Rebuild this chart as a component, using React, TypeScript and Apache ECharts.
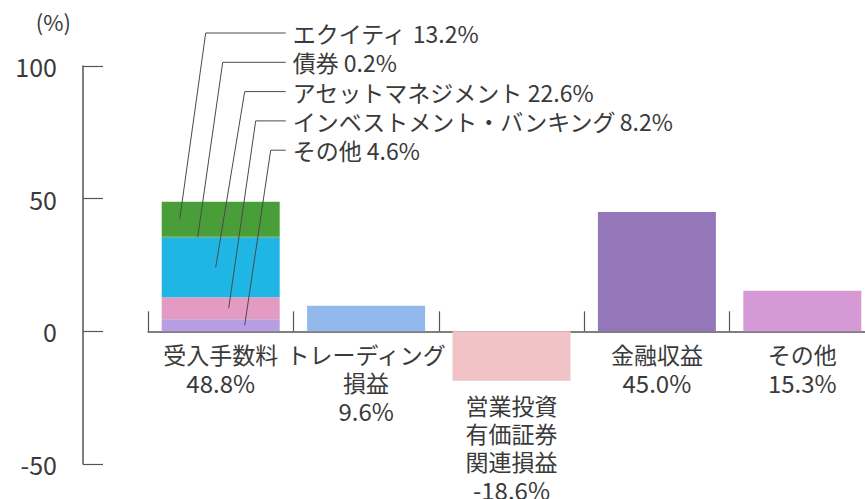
import React, { useEffect, useRef } from "react";
import * as echarts from "echarts";

const categories = ["受入手数料", "トレーディング\n損益", "営業投資\n有価証券\n関連損益", "金融収益", "その他"];
const totals = [48.8, 9.6, -18.6, 45.0, 15.3];
const totalColors = ["", "#93b8ec", "#f1c3c6", "#9477b9", "#d59ad6"];
// fee breakdown for 受入手数料, bottom to top
const feeNames = ["その他", "インベストメント・バンキング", "アセットマネジメント", "債券", "エクイティ"];
const feeValues = [4.6, 8.2, 22.6, 0.2, 13.2];
const feeColors = ["#b79ee2", "#e39bc4", "#1fb6e6", "#3f8f3a", "#4a9e3a"];
const yTicks = [-50, 0, 50, 100];

const FONT = "'Noto Sans CJK JP', 'Noto Sans', sans-serif";
const TEXT = "#3a3a3a";
const AXIS = "#555";

export default function App() {
  const ref = useRef<HTMLDivElement>(null);
  useEffect(() => {
    if (!ref.current) return;
    const chart = echarts.init(ref.current, undefined, { renderer: "svg" });
    const feeSeries = feeValues.map((v, i) => ({
      name: feeNames[i],
      type: "bar",
      stack: "a",
      barWidth: 118,
      itemStyle: { color: feeColors[i] },
      data: categories.map((_, j) => (j === 0 ? v : "-")),
    }));
    const otherSeries = {
      name: "total",
      type: "bar",
      stack: "a",
      barWidth: 118,
      data: totals.map((v, j) =>
        j === 0 ? "-" : { value: v, itemStyle: { color: totalColors[j] } }
      ),
    };
    chart.setOption({
      animation: false,
      textStyle: { fontFamily: FONT },
      grid: { left: 148, top: 66, bottom: 35, width: 727, containLabel: false, outerBoundsMode: "none" },
      xAxis: {
        type: "category",
        data: categories,
        position: "bottom",
        offset: 0,
        axisLine: { onZero: false, lineStyle: { color: AXIS, width: 1.5 } },
        axisTick: { show: true, inside: true, length: 20, lineStyle: { color: AXIS, width: 1.2 } },
        axisLabel: {
          margin: 9,
          interval: 0,
          color: TEXT,
          fontFamily: FONT,
          formatter: (value: string, idx: number) => {
            const lines = value.split("\n").map((s) => `{t|${s}}`);
            lines.push(`{p|${totals[idx].toFixed(1)}%}`);
            const pre = idx === 2 ? "{g| }\n" : "";
            return pre + lines.join("\n");
          },
          rich: {
            t: { fontSize: 23, lineHeight: 28, color: TEXT, fontFamily: FONT },
            p: { fontSize: 24, lineHeight: 29, color: TEXT, fontFamily: FONT },
            g: { fontSize: 10, lineHeight: 51 },
          },
        },
      },
      yAxis: {
        type: "value",
        min: yTicks[0],
        max: yTicks[yTicks.length - 1],
        interval: 50,
        offset: 65,
        name: "(%)",
        nameLocation: "end",
        nameGap: 34,
        nameTextStyle: { fontSize: 22, color: TEXT, align: "right", padding: [0, 12, 0, 0], fontFamily: FONT },
        axisLine: { show: true, lineStyle: { color: AXIS, width: 1.5 } },
        axisTick: { show: true, inside: true, length: 20, lineStyle: { color: AXIS, width: 1.2 } },
        axisLabel: { margin: 26, fontSize: 25, color: TEXT, fontFamily: FONT },
        splitLine: { show: false },
      },
      series: [...feeSeries, otherSeries],
    });

    // move the category axis up to the zero line
    const zeroY = chart.convertToPixel({ yAxisIndex: 0 }, 0) as number;
    const bottomY = chart.convertToPixel({ yAxisIndex: 0 }, yTicks[0]) as number;
    chart.setOption({ xAxis: { offset: zeroY - bottomY } });

    // leader lines from fee breakdown labels into the stacked bar
    const cx = chart.convertToPixel({ xAxisIndex: 0 }, 0) as number;
    const endDx = [24, 8, -5, -23, -41]; // bottom to top order
    const cornerDx = [50, 35, 24, 2, -15];
    const graphics: any[] = [];
    let cum = 0;
    feeValues.forEach((v, i) => {
      const mid = cum + v / 2;
      cum += v;
      const ey = chart.convertToPixel({ yAxisIndex: 0 }, mid) as number;
      const row = feeValues.length - 1 - i; // top row = エクイティ
      const ly = 33 + row * 29.3;
      const lineEnd = cx + 65;
      graphics.push({
        type: "polyline",
        silent: true,
        shape: { points: [[cx + endDx[i], ey], [cx + cornerDx[i], ly], [lineEnd, ly]] },
        style: { stroke: "#4a4a4a", lineWidth: 1, fill: "none" },
        z: 100,
      });
      graphics.push({
        type: "text",
        silent: true,
        x: cx + 72,
        y: ly,
        style: {
          text: `{n|${feeNames[i]}} {v|${v.toFixed(1)}%}`,
          rich: {
            n: { fontSize: 23, fontFamily: FONT, fill: TEXT },
            v: { fontSize: 23, fontFamily: FONT, fill: TEXT },
          },
          fontSize: 23,
          fontFamily: FONT,
          fill: TEXT,
          verticalAlign: "middle",
          align: "left",
        },
        z: 100,
      });
    });
    chart.setOption({ graphic: graphics });

    return () => chart.dispose();
  }, []);
  return (
    <div
      ref={ref}
      style={{ position: "fixed", left: 0, top: 0, width: 865, height: 499, background: "#fff" }}
    />
  );
}
